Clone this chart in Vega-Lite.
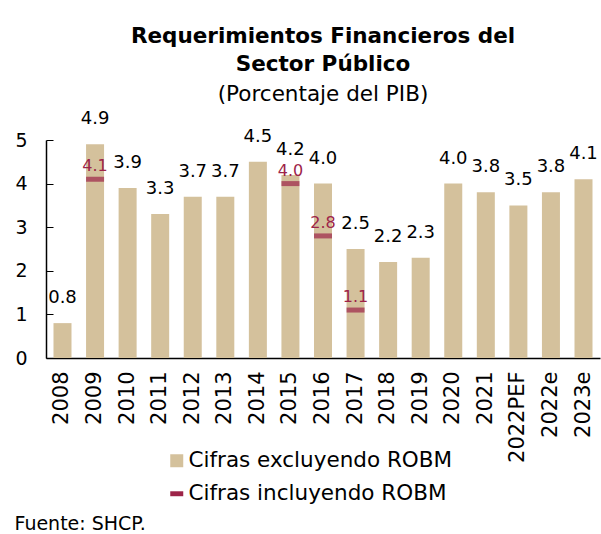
{
  "$schema": "https://vega.github.io/schema/vega-lite/v6.json",
  "width": 554,
  "height": 218,
  "autosize": {"type": "none"},
  "padding": {"left": 46, "top": 140, "right": 1, "bottom": 176},
  "background": "white",
  "title": {
    "text": ["Requerimientos Financieros del", "Sector Público"],
    "subtitle": "(Porcentaje del PIB)",
    "anchor": "middle",
    "font": "DejaVu Sans",
    "fontSize": 21.5,
    "fontWeight": "bold",
    "color": "black",
    "lineHeight": 28,
    "subtitleFont": "DejaVu Sans",
    "subtitleFontSize": 21.5,
    "subtitleColor": "black",
    "subtitlePadding": 8,
    "offset": 5
  },
  "config": {
    "view": {"stroke": null},
    "font": "DejaVu Sans"
  },
  "data": {
    "values": [
      {"year": "2008", "total": 0.8, "robm": null},
      {"year": "2009", "total": 4.9, "robm": 4.1},
      {"year": "2010", "total": 3.9, "robm": null},
      {"year": "2011", "total": 3.3, "robm": null},
      {"year": "2012", "total": 3.7, "robm": null},
      {"year": "2013", "total": 3.7, "robm": null},
      {"year": "2014", "total": 4.5, "robm": null},
      {"year": "2015", "total": 4.2, "robm": 4.0},
      {"year": "2016", "total": 4.0, "robm": 2.8},
      {"year": "2017", "total": 2.5, "robm": 1.1},
      {"year": "2018", "total": 2.2, "robm": null},
      {"year": "2019", "total": 2.3, "robm": null},
      {"year": "2020", "total": 4.0, "robm": null},
      {"year": "2021", "total": 3.8, "robm": null},
      {"year": "2022PEF", "total": 3.5, "robm": null},
      {"year": "2022e", "total": 3.8, "robm": null},
      {"year": "2023e", "total": 4.1, "robm": null}
    ]
  },
  "encoding": {
    "x": {
      "field": "year",
      "type": "nominal",
      "sort": null,
      "scale": {"paddingInner": 0.447, "paddingOuter": 0.23},
      "axis": {
        "title": "Fuente: SHCP.",
        "titleFont": "DejaVu Sans",
        "titleFontSize": 19,
        "titleFontWeight": "normal",
        "titleColor": "black",
        "titleAnchor": "start",
        "titleAlign": "left",
        "titleBaseline": "alphabetic",
        "titleX": -32,
        "titleY": 171,
        "labelAngle": -90,
        "labelFontSize": 21,
        "labelColor": "black",
        "labelPadding": 13,
        "ticks": false,
        "domainColor": "black",
        "domainWidth": 1.5
      }
    }
  },
  "layer": [
    {
      "mark": {"type": "bar", "color": "#D4C19C"},
      "encoding": {
        "y": {
          "field": "total",
          "type": "quantitative",
          "scale": {"domain": [0, 5], "nice": false},
          "axis": {
            "title": null,
            "values": [0, 1, 2, 3, 4, 5],
            "grid": false,
            "labelFontSize": 19,
            "labelColor": "black",
            "tickSize": -7,
            "tickColor": "black",
            "domainColor": "black",
            "domainWidth": 1.5,
            "labelPadding": 26
          }
        },
        "color": {
          "datum": "Cifras excluyendo ROBM",
          "scale": {
            "domain": ["Cifras excluyendo ROBM", "Cifras incluyendo ROBM"],
            "range": ["#D4C19C", "#9D2449"]
          },
          "legend": {
            "title": null,
            "orient": "none",
            "legendX": 120,
            "legendY": 310,
            "labelFontSize": 21.5,
            "labelColor": "black",
            "labelLimit": 0,
            "symbolSize": 169,
            "rowPadding": 10,
            "labelOffset": 1,
            "symbolStrokeWidth": 0,
            "encode": {
              "symbols": {
                "update": {
                  "shape": {"signal": "datum.value === 'Cifras incluyendo ROBM' ? 'M-1,-0.38L1,-0.38L1,0.38L-1,0.38Z' : 'square'"}
                }
              }
            }
          }
        }
      }
    },
    {
      "mark": {"type": "text", "baseline": "bottom", "dy": -16, "fontSize": 18, "color": "black"},
      "encoding": {
        "y": {"field": "total", "type": "quantitative"},
        "text": {"field": "total", "type": "quantitative", "format": ".1f"}
      }
    },
    {
      "transform": [{"filter": "datum.robm != null"}],
      "mark": {"type": "tick", "thickness": 5, "size": 18},
      "encoding": {
        "y": {"field": "robm", "type": "quantitative"},
        "color": {"datum": "Cifras incluyendo ROBM"}
      }
    },
    {
      "transform": [{"filter": "datum.robm != null"}],
      "mark": {"type": "text", "baseline": "bottom", "dy": -5, "fontSize": 16, "color": "#9D2449"},
      "encoding": {
        "y": {"field": "robm", "type": "quantitative"},
        "text": {"field": "robm", "type": "quantitative", "format": ".1f"}
      }
    }
  ]
}
